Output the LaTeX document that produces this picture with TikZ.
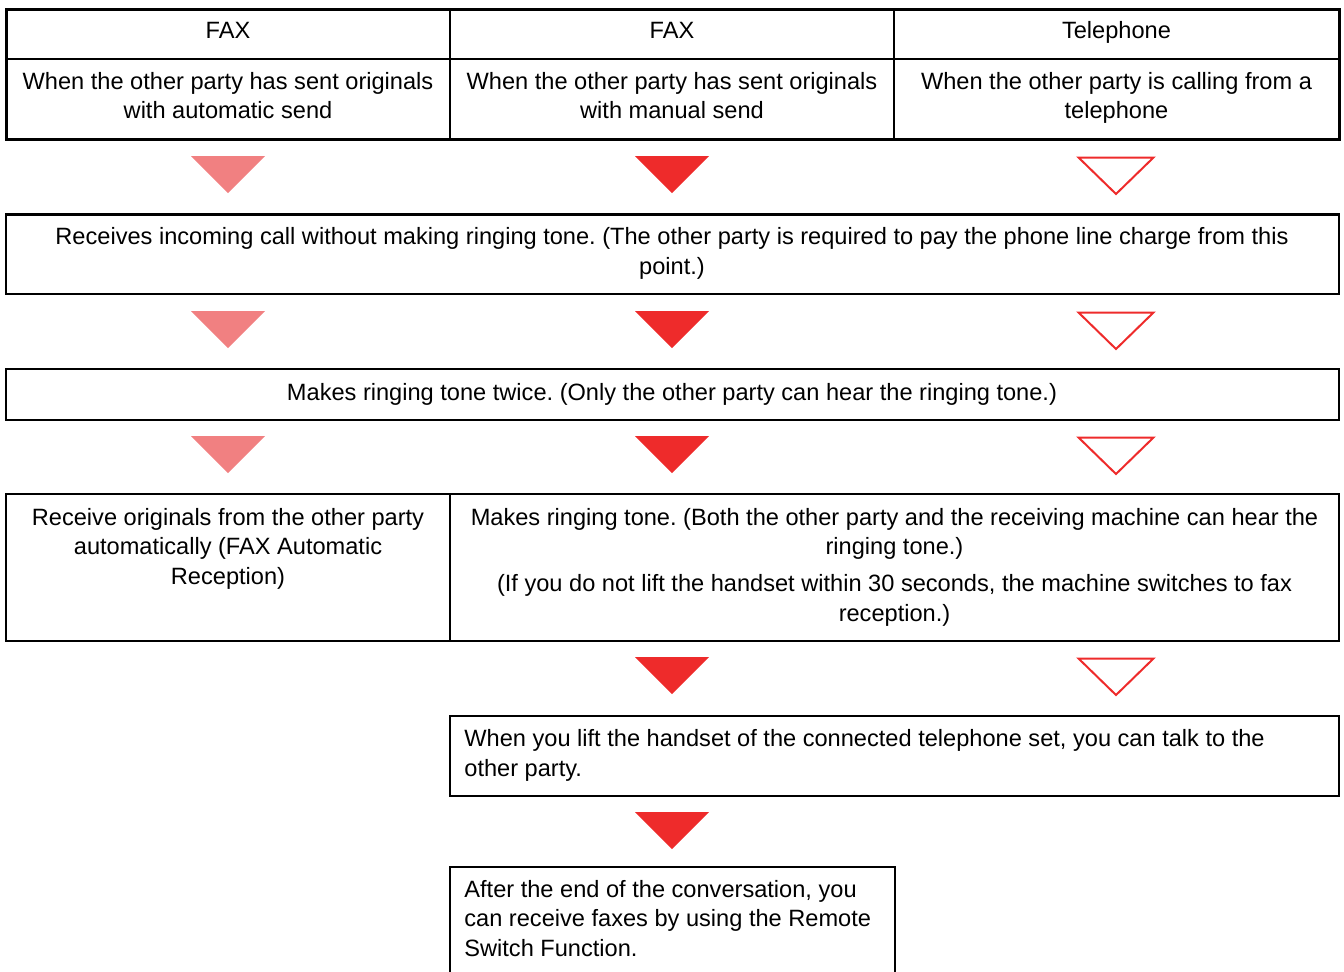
\documentclass[tikz,border=0pt]{standalone}
\usepackage{fontspec}
\setmainfont{Liberation Sans}
\usetikzlibrary{positioning}
\frenchspacing
\definecolor{rose}{RGB}{241,128,129}
\definecolor{signal}{RGB}{238,43,43}
\definecolor{ink}{RGB}{0,0,0}
\tikzset{
  frame/.style={draw=ink,line width=0.75pt},
  heavy/.style={draw=ink,line width=1.5pt},
  txt/.style={inner sep=0pt,anchor=base,align=center,font=\fontsize{11.8}{14.65}\selectfont},
  ltxt/.style={txt,anchor=base west,align=left},
  % pointers between the steps
  pics/pointer/.style={code={
    \fill[#1] (-37,0) -- (37,0) -- (0,37) -- cycle;
  }},
  pics/pointer/.default=signal,
  pics/hollow/.style={code={
    \draw[#1,line width=1pt,line join=miter] (-37.5,1.5) -- (37.5,1.5) -- (0,38) -- cycle;
  }},
  pics/hollow/.default=signal,
}

\begin{document}
\begin{tikzpicture}[x=0.5pt,y=-0.5pt]
  \useasboundingbox (0,0) rectangle (1344,971);
  % table of the three cases (multi-line nodes sit on their last baseline)
  \draw[frame] (6,59) -- (1339,59) (450,9) -- (450,139) (894,9) -- (894,139);
  \draw[heavy] (6,9) rectangle (1339,139);
  \node[txt] (head1) at (228,38) {FAX};
  \node[txt] (head2) at (672,38) {FAX};
  \node[txt] (head3) at (1116.5,38) {Telephone};
  \node[txt] (case1) at (228,118.5) {When the other party has sent originals\\with automatic send};
  \node[txt] (case2) at (672,118.5) {When the other party has sent originals\\with manual send};
  \node[txt] (case3) at (1116.5,118.5) {When the other party is calling from a\\telephone};
  % steps
  \draw[frame] (6,214) rectangle (1339,294);
  \draw[heavy] (6,214) -- (1339,214);
  \node[txt] (incoming) at (672,274) {Receives incoming call without making ringing tone. (The other party is required to pay the phone line charge from this\\point.)};
  \draw[frame] (6,369) rectangle (1339,420);
  \node[txt] (twice) at (672,400) {Makes ringing tone twice. (Only the other party can hear the ringing tone.)};
  \draw[frame] (6,494) rectangle (1339,641) (450,494) -- (450,641);
  \node[txt] (autorx) at (228,584) {Receive originals from the other party\\automatically (FAX Automatic\\Reception)};
  \node[txt] (ringing) at (894.5,554.5) {Makes ringing tone. (Both the other party and the receiving machine can hear the\\ringing tone.)};
  \node[txt] (timeout) at (894.5,621) {(If you do not lift the handset within 30 seconds, the machine switches to fax\\reception.)};
  \draw[frame] (450,716) rectangle (1339,796);
  \node[ltxt] (talk) at (464,776) {When you lift the handset of the connected telephone set, you can talk to the\\other party.};
  \draw[frame] (450,867) rectangle (895,1000);
  \node[ltxt] (remote) at (464,956) {After the end of the conversation, you\\can receive faxes by using the Remote\\Switch Function.};
  % pointers
  \foreach \y in {156,311,436} {
    \pic at (228,\y) {pointer=rose};
    \pic at (672,\y) {pointer};
    \pic at (1116,\y) {hollow};
  }
  \pic at (672,657) {pointer};
  \pic at (1116,657) {hollow};
  \pic at (672,812) {pointer};
\end{tikzpicture}
\end{document}
